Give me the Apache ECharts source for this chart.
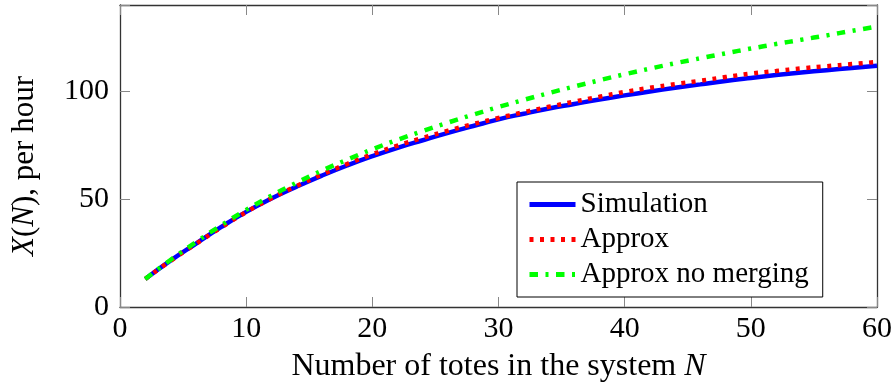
<!DOCTYPE html>
<html>
<head>
<meta charset="utf-8">
<script src="https://cdn.jsdelivr.net/npm/echarts@6/dist/echarts.min.js"></script>
<style>
  html, body { margin: 0; padding: 0; background: #fff; }
  #chart { width: 896px; height: 392px; }
</style>
</head>
<body>
<div id="chart"></div>
<script>
const totes = [2, 4, 6, 8, 10, 12, 14, 16, 18, 20, 22, 24, 26, 28, 30,
  32, 34, 36, 38, 40, 42, 44, 46, 48, 50, 52, 54, 56, 58, 60];
const simulation = [13, 21.5, 29.3, 37, 44.1, 50.3, 55.8, 60.9, 65.6, 69.9,
  73.8, 77.3, 80.7, 83.9, 87, 89.6, 92, 94.1, 96.2, 98.1,
  99.9, 101.6, 103.2, 104.8, 106.2, 107.5, 108.7, 109.8, 110.8, 111.8];
const approx = [13, 21.4, 29.2, 36.8, 44, 50.4, 56.1, 61.4, 66.3, 70.8,
  74.8, 78.4, 81.7, 84.8, 87.6, 90.3, 92.8, 95.2, 97.5, 99.7,
  101.6, 103.3, 104.9, 106.6, 108.2, 109.4, 110.6, 111.6, 112.6, 113.6];
const approxNoMerging = [13, 21.8, 30, 37.8, 45, 51.6, 57.6, 63.2, 68.3, 73.1,
  77.5, 81.6, 85.5, 89.2, 92.7, 96, 99.2, 102.2, 105.1, 107.9,
  110.5, 113, 115.3, 117.6, 119.8, 121.9, 123.9, 125.9, 128, 130];

const font = '"Liberation Serif", "DejaVu Serif", serif';
const pairs = ys => totes.map((n, i) => [n, ys[i]]);

const chart = echarts.init(document.getElementById('chart'), null, {renderer: 'canvas'});

// pgfplots style box: dark frame, ticks inside on every side
const axisLine = {show: true, onZero: false, lineStyle: {color: '#333', width: 1.3}};
const axisTick = {show: true, inside: true, length: 10, lineStyle: {color: '#888', width: 1}};

chart.setOption({
  animation: false,
  grid: {left: 120, right: 19, top: 5, bottom: 85},
  legend: {
    orient: 'vertical',
    left: 517,
    top: 182,
    padding: [8, 14, 8, 10],
    itemWidth: 46,
    itemHeight: 14,
    itemGap: 6,
    backgroundColor: '#fff',
    borderColor: '#000',
    borderWidth: 1,
    borderRadius: 0,
    itemStyle: {opacity: 0},
    lineStyle: {width: 5},
    textStyle: {fontFamily: font, fontSize: 29, color: '#000'},
    data: ['Simulation', 'Approx', 'Approx no merging']
  },
  xAxis: [
    {
      type: 'value', min: 0, max: 60, interval: 10,
      name: 'Number of totes in the system {it|N}',
      nameLocation: 'middle',
      nameGap: 44,
      nameTextStyle: {
        fontFamily: font, fontSize: 32, color: '#000',
        rich: {it: {fontFamily: font, fontSize: 32, fontStyle: 'italic', color: '#000'}}
      },
      axisLine: axisLine, axisTick: axisTick,
      axisLabel: {fontFamily: font, fontSize: 30, color: '#000', margin: 7},
      splitLine: {show: false}
    },
    {
      type: 'value', position: 'top', min: 0, max: 60, interval: 10,
      axisLine: axisLine, axisTick: axisTick,
      axisLabel: {show: false}, splitLine: {show: false}
    }
  ],
  yAxis: [
    {
      type: 'value', min: 0, max: 140, interval: 50,
      name: '{it|X}({it|N}), per hour',
      nameLocation: 'middle',
      nameRotate: 90,
      nameGap: 80,
      nameTextStyle: {
        fontFamily: font, fontSize: 31, color: '#000',
        padding: [0, 20, 0, 0],
        rich: {it: {fontFamily: font, fontSize: 31, fontStyle: 'italic', color: '#000'}}
      },
      axisLine: axisLine, axisTick: axisTick,
      axisLabel: {
        fontFamily: font, fontSize: 30, color: '#000', margin: 11,
        formatter: v => (v % 50 === 0 ? String(v) : '')
      },
      splitLine: {show: false}
    },
    {
      type: 'value', position: 'right', min: 0, max: 140, interval: 50,
      axisLine: axisLine, axisTick: axisTick,
      axisLabel: {show: false}, splitLine: {show: false}
    }
  ],
  series: [
    {
      name: 'Simulation', type: 'line', symbol: 'none', smooth: true,
      lineStyle: {color: '#0000ff', width: 4.5},
      itemStyle: {color: '#0000ff'},
      data: pairs(simulation)
    },
    {
      name: 'Approx', type: 'line', symbol: 'none', smooth: true,
      lineStyle: {color: '#ff0000', width: 4.5, type: [4, 6.5]},
      itemStyle: {color: '#ff0000'},
      data: pairs(approx)
    },
    {
      name: 'Approx no merging', type: 'line', symbol: 'none', smooth: true,
      lineStyle: {color: '#00ff00', width: 4.5, type: [8.5, 7.5, 3, 7.5]},
      itemStyle: {color: '#00ff00'},
      data: pairs(approxNoMerging)
    }
  ]
});
</script>
</body>
</html>
